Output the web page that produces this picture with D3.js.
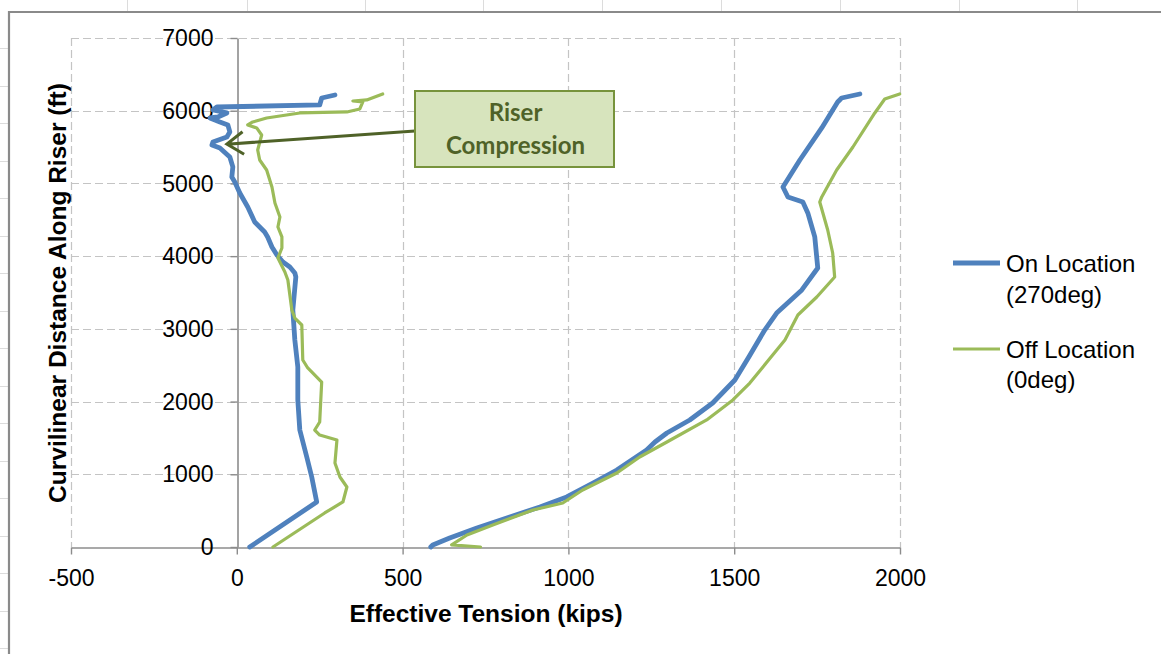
<!DOCTYPE html>
<html>
<head>
<meta charset="utf-8">
<script src="https://cdn.jsdelivr.net/npm/d3@7"></script>
<style>
  body { margin: 0; background: #fff; }
  svg { display: block; }
</style>
</head>
<body>
<script>
// [tension (kips), curvilinear distance (ft)], top to bottom
var onLocInner = [
  [296, 6216], [256, 6175], [250, 6079], [-60, 6051], [-72, 6010], [-30, 5969],
  [-57, 5914], [-81, 5900], [-51, 5845], [-27, 5804], [-21, 5708], [-30, 5639],
  [-72, 5570], [-75, 5529], [-51, 5488], [-21, 5364], [-12, 5227], [-15, 5089],
  [-6, 5020], [9, 4869], [33, 4676], [54, 4470], [84, 4332], [93, 4264],
  [106, 4126], [121, 4016], [139, 3920], [160, 3851], [175, 3769], [178, 3714],
  [169, 3259], [175, 2847], [184, 2476], [184, 2022], [190, 1609], [211, 1238],
  [226, 963], [241, 619], [39, 0]
];
var onLocOuter = [
  [1879, 6230], [1824, 6175], [1812, 6120], [1764, 5763], [1698, 5322], [1647, 4951],
  [1662, 4814], [1707, 4745], [1722, 4594], [1743, 4264], [1752, 3837], [1704, 3535],
  [1628, 3218], [1592, 2984], [1545, 2620], [1502, 2297], [1435, 1980], [1366, 1747],
  [1297, 1568], [1261, 1444], [1236, 1334], [1146, 1059], [1074, 880], [995, 688],
  [914, 550], [823, 413], [724, 261], [642, 124], [591, 28], [585, 0]
];
var offLocInner = [
  [440, 6230], [392, 6148], [350, 6134], [380, 6120], [371, 6024], [332, 5983],
  [190, 5969], [90, 5900], [48, 5845], [33, 5804], [60, 5763], [75, 5666],
  [63, 5460], [69, 5322], [90, 5185], [106, 4951], [115, 4731], [130, 4539],
  [124, 4401], [136, 4264], [136, 4112], [124, 3975], [145, 3782], [154, 3672],
  [166, 3259], [175, 3149], [196, 3053], [199, 2572], [214, 2462], [256, 2269],
  [250, 1719], [235, 1609], [250, 1540], [302, 1472], [296, 1155], [311, 963],
  [332, 825], [320, 619], [265, 468], [109, 0]
];
var offLocOuter = [
  [1999, 6230], [1954, 6161], [1924, 5969], [1858, 5501], [1809, 5185], [1764, 4814],
  [1758, 4745], [1782, 4360], [1797, 4043], [1803, 3713], [1749, 3438], [1692, 3191],
  [1653, 2847], [1600, 2550], [1547, 2255], [1496, 2022], [1417, 1747], [1297, 1444],
  [1215, 1238], [1146, 1018], [1043, 784], [983, 605], [893, 509], [772, 303],
  [694, 165], [648, 28], [735, 0]
];
var xTicks = [-500, 0, 500, 1000, 1500, 2000];
var yTicks = [0, 1000, 2000, 3000, 4000, 5000, 6000, 7000];
var seriesNames = ['On Location', 'Off Location'];
var seriesSub = ['(270deg)', '(0deg)'];
var annotation = { text: ['Riser', 'Compression'], at: [-30, 5540] };

var W = 1161, H = 654;
var blue = '#4f81bd', green = '#9bbb59';
var font = '"Liberation Sans", Arial, sans-serif';

var svg = d3.select('body').append('svg')
  .attr('width', W)
  .attr('height', H);

// spreadsheet cells peeking out behind the chart object
var sheet = svg.append('g').attr('stroke', '#dcdcdc').attr('stroke-width', 1);
[127, 247, 365, 483, 602, 721, 840, 959, 1077].forEach(function(cx) {
  sheet.append('line').attr('x1', cx + 0.5).attr('x2', cx + 0.5).attr('y1', 0).attr('y2', 11);
});
d3.range(48, H, 37.5).forEach(function(cy) {
  sheet.append('line').attr('x1', 0).attr('x2', 8).attr('y1', Math.round(cy) + 0.5).attr('y2', Math.round(cy) + 0.5);
});

// chart frame
svg.append('path')
  .attr('d', 'M9,' + H + 'V12H' + W)
  .attr('fill', 'none')
  .attr('stroke', '#8a8a8a')
  .attr('stroke-width', 2.2);

var x = d3.scaleLinear().domain([-500, 2000]).range([71, 900]);
var y = d3.scaleLinear().domain([0, 7000]).range([547, 38]);

// dashed grid
var grid = svg.append('g')
  .attr('stroke', '#c4c4c4')
  .attr('stroke-width', 1.2)
  .attr('stroke-dasharray', '8,4');
grid.selectAll('.hg')
  .data(yTicks.filter(function(d) { return d > 0; }))
  .enter()
  .append('line')
    .attr('x1', x(-500)).attr('x2', x(2000))
    .attr('y1', function(d) { return Math.round(y(d)) + 0.5; })
    .attr('y2', function(d) { return Math.round(y(d)) + 0.5; });
grid.selectAll('.vg')
  .data(xTicks.filter(function(d) { return d !== 0; }))
  .enter()
  .append('line')
    .attr('y1', y(7000)).attr('y2', y(0))
    .attr('x1', function(d) { return Math.round(x(d)) + 0.5; })
    .attr('x2', function(d) { return Math.round(x(d)) + 0.5; });

// axes
var plain = function(d) { return String(d); };
var xAxis = svg.append('g')
  .attr('transform', translation(0, Math.round(y(0)) + 0.5))
  .call(d3.axisBottom(x).tickValues(xTicks).tickFormat(plain)
    .tickSize(7).tickSizeOuter(0).tickPadding(15));
var yAxis = svg.append('g')
  .attr('transform', translation(Math.round(x(0)) + 0.5, 0))
  .call(d3.axisLeft(y).tickValues(yTicks).tickFormat(plain)
    .tickSize(7).tickSizeOuter(0).tickPadding(17));
[xAxis, yAxis].forEach(function(a) {
  a.select('.domain').attr('stroke', '#8c8c8c').attr('stroke-width', 1.6);
  a.selectAll('.tick line').attr('stroke', '#8c8c8c').attr('stroke-width', 1.4);
  a.selectAll('.tick text')
    .attr('fill', '#000')
    .style('font-family', font)
    .style('font-size', '23px');
});
yAxis.selectAll('.tick text').attr('dy', '0.33em');

// series
var line = d3.line()
  .x(function(d) { return x(d[0]); })
  .y(function(d) { return y(d[1]); });

var series = [
  { pts: onLocInner, color: blue, w: 4.8 },
  { pts: onLocOuter, color: blue, w: 4.8 },
  { pts: offLocInner, color: green, w: 3.2 },
  { pts: offLocOuter, color: green, w: 3.2 }
];
svg.append('g').selectAll('.series')
  .data(series)
  .enter()
  .append('path')
    .attr('d', function(d) { return line(d.pts); })
    .attr('fill', 'none')
    .attr('stroke', function(d) { return d.color; })
    .attr('stroke-width', function(d) { return d.w; })
    .attr('stroke-linejoin', 'round')
    .attr('stroke-linecap', 'round');

// axis titles
svg.append('text')
  .text('Effective Tension (kips)')
  .attr('x', 486)
  .attr('y', 622)
  .attr('text-anchor', 'middle')
  .style('font-family', font)
  .style('font-weight', 'bold')
  .style('font-size', '24.5px');
svg.append('text')
  .text('Curvilinear Distance Along Riser (ft)')
  .attr('transform', translation(66, 293) + ' rotate(-90)')
  .attr('text-anchor', 'middle')
  .style('font-family', font)
  .style('font-weight', 'bold')
  .style('font-size', '24.5px');

// legend
var legendRows = [[0, 272, 303], [86, 358, 388]];
var legend = svg.append('g');
legend.selectAll('.entry')
  .data([0, 1])
  .enter()
  .append('g')
    .each(function(d) {
      var g = d3.select(this);
      g.append('line')
        .attr('x1', 953).attr('x2', 1000)
        .attr('y1', 263 + legendRows[d][0]).attr('y2', 263 + legendRows[d][0])
        .attr('stroke', d ? green : blue)
        .attr('stroke-width', d ? 3.2 : 4.8);
      g.append('text')
        .style('font-family', font)
        .style('font-size', '24px')
        .selectAll('tspan')
        .data([seriesNames[d], seriesSub[d]])
        .enter()
        .append('tspan')
          .attr('x', 1006)
          .attr('y', function(t, i) { return legendRows[d][i + 1]; })
          .text(function(t) { return t; });
    });

// callout
var box = { x: 415, y: 91, w: 199, h: 76 };
var tip = [x(annotation.at[0]), y(annotation.at[1])];
var from = [box.x, box.y + 40];
var ang = Math.atan2(from[1] - tip[1], from[0] - tip[0]);
var headLen = 20, headSpread = 0.6;
svg.append('path')
  .attr('d', 'M' + from + 'L' + tip +
    'M' + [tip[0] + headLen * Math.cos(ang - headSpread), tip[1] + headLen * Math.sin(ang - headSpread)] +
    'L' + tip +
    'L' + [tip[0] + headLen * Math.cos(ang + headSpread), tip[1] + headLen * Math.sin(ang + headSpread)])
  .attr('fill', 'none')
  .attr('stroke', '#4f6228')
  .attr('stroke-width', 3)
  .attr('stroke-linejoin', 'miter');
svg.append('rect')
  .attr('x', box.x).attr('y', box.y)
  .attr('width', box.w).attr('height', box.h)
  .attr('fill', '#d7e4bd')
  .attr('stroke', '#77933c')
  .attr('stroke-width', 2);
svg.append('g').selectAll('.note')
  .data(annotation.text)
  .enter()
  .append('text')
    .text(function(d) { return d; })
    .attr('x', box.x + box.w / 2 + 1)
    .attr('y', function(d, i) { return 121 + i * 33; })
    .attr('text-anchor', 'middle')
    .attr('fill', '#4f6228')
    .style('font-family', 'Lato, "Open Sans", sans-serif')
    .style('font-weight', 'bold')
    .style('font-size', '24px');

function translation(tx, ty) {
  return 'translate(' + tx + ',' + ty + ')';
}
</script>
</body>
</html>
